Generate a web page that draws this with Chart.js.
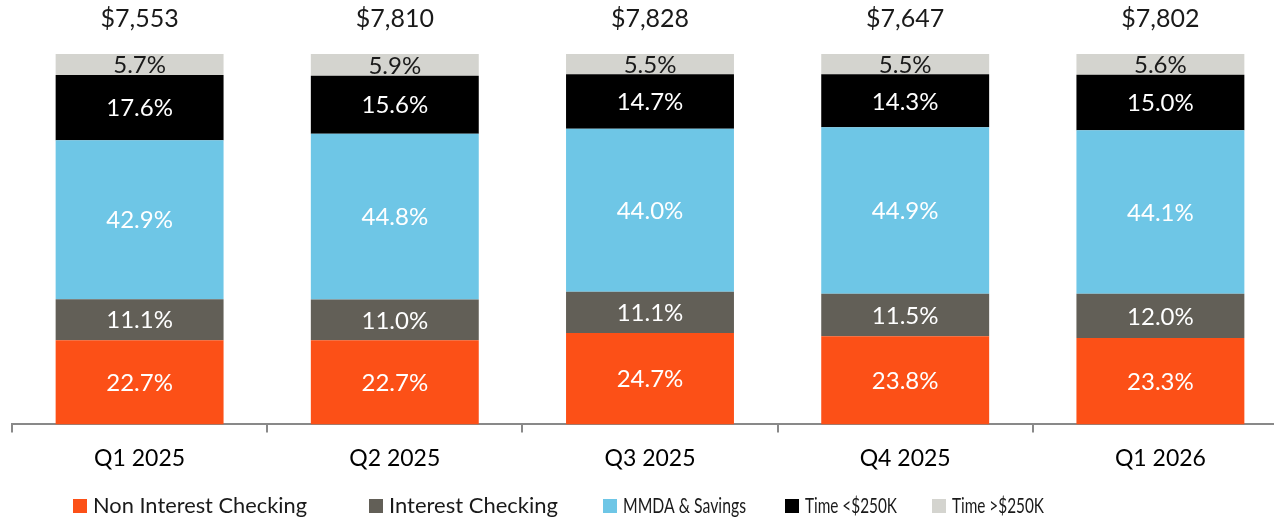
<!DOCTYPE html>
<html>
<head>
<meta charset="utf-8">
<script src="https://cdn.jsdelivr.net/npm/chart.js@4.4.1/dist/chart.umd.min.js"></script>
<style>
  html, body { margin: 0; padding: 0; overflow: hidden; background: #fff; }
  #wrap { width: 1300px; height: 520px; }
</style>
</head>
<body>
<div id="wrap"><canvas id="chart1"></canvas></div>
<script>
// data
var quarters = ['Q1 2025', 'Q2 2025', 'Q3 2025', 'Q4 2025', 'Q1 2026'];
var totals = [7553, 7810, 7828, 7647, 7802];

var nonInterestChecking = [22.7, 22.7, 24.7, 23.8, 23.3];
var interestChecking = [11.1, 11.0, 11.1, 11.5, 12.0];
var mmdaSavings = [42.9, 44.8, 44.0, 44.9, 44.1];
var timeUnder250 = [17.6, 15.6, 14.7, 14.3, 15.0];
var timeOver250 = [5.7, 5.9, 5.5, 5.5, 5.6];

var seriesNames = ['Non Interest Checking', 'Interest Checking', 'MMDA & Savings', 'Time <$250K', 'Time >$250K'];

// look
var colors = ['#FC5017', '#625F57', '#6EC6E6', '#000000', '#D4D4CF'];
var labelColors = ['#ffffff', '#ffffff', '#ffffff', '#ffffff', '#1a1a1a'];
var legendX = [73, 369, 603, 785, 932];
var legendTextW = [214, 169, 123, 92, 92];
var fontFamily = 'Lato, "Open Sans", sans-serif';

//segment labels + totals
var labelsPlugin = {
    id: 'labelsPlugin',
    afterDatasetsDraw: function(chart){
        var ctx = chart.ctx;
        ctx.save();
        ctx.textAlign = 'center';
        ctx.textBaseline = 'middle';
        ctx.font = '24px ' + fontFamily;
        chart.data.datasets.forEach(function(ds, i){
            var meta = chart.getDatasetMeta(i);
            meta.data.forEach(function(bar, j){
                ctx.fillStyle = labelColors[i];
                ctx.fillText(ds.data[j].toFixed(1) + '%', bar.x, (bar.y + bar.base) / 2 + 1);
            });
        });
        // totals above bars
        var top = chart.getDatasetMeta(chart.data.datasets.length - 1);
        ctx.font = '25px ' + fontFamily;
        ctx.fillStyle = '#1a1a1a';
        top.data.forEach(function(bar, j){
            ctx.fillText('$' + totals[j].toLocaleString('en-US'), bar.x, chart.chartArea.top - 35);
        });
        ctx.restore();
    }
};

//legend drawn at bottom
var legendPlugin = {
    id: 'legendPlugin',
    afterDraw: function(chart){
        var ctx = chart.ctx;
        ctx.save();
        ctx.font = '22px ' + fontFamily;
        ctx.textBaseline = 'middle';
        ctx.textAlign = 'left';
        chart.data.datasets.forEach(function(ds, i){
            var x = legendX[i];
            ctx.fillStyle = ds.backgroundColor;
            ctx.fillRect(x, 499, 14, 14);
            ctx.fillStyle = '#1a1a1a';
            ctx.fillText(ds.label, x + 20, 506, legendTextW[i]);
        });
        ctx.restore();
    }
};

var seriesData = [nonInterestChecking, interestChecking, mmdaSavings, timeUnder250, timeOver250];
var datasets = seriesData.map(function(d, i){
    return {
        label: seriesNames[i],
        data: d,
        backgroundColor: colors[i],
        borderWidth: 0,
        categoryPercentage: 1,
        barPercentage: 0.658
    };
});

var ctx = document.getElementById('chart1');
var myChart = new Chart(ctx, {
    type: 'bar',
    data: { labels: quarters, datasets: datasets },
    options: {
        responsive: true,
        maintainAspectRatio: false,
        animation: false,
        layout: { padding: { left: 12, right: 12, top: 54, bottom: 36 } },
        plugins: {
            legend: { display: false },
            tooltip: { enabled: false }
        },
        scales: {
            x: {
                stacked: true,
                grid: {
                    offset: true,
                    drawOnChartArea: false,
                    drawTicks: true,
                    tickLength: 8,
                    color: '#898989',
                    lineWidth: 2
                },
                border: { display: true, color: '#898989', width: 2 },
                ticks: {
                    color: '#000',
                    padding: 12,
                    font: { family: fontFamily, size: 23 }
                }
            },
            y: {
                stacked: true,
                display: false,
                min: 0,
                max: 100
            }
        }
    },
    plugins: [labelsPlugin, legendPlugin]
});
</script>
</body>
</html>
